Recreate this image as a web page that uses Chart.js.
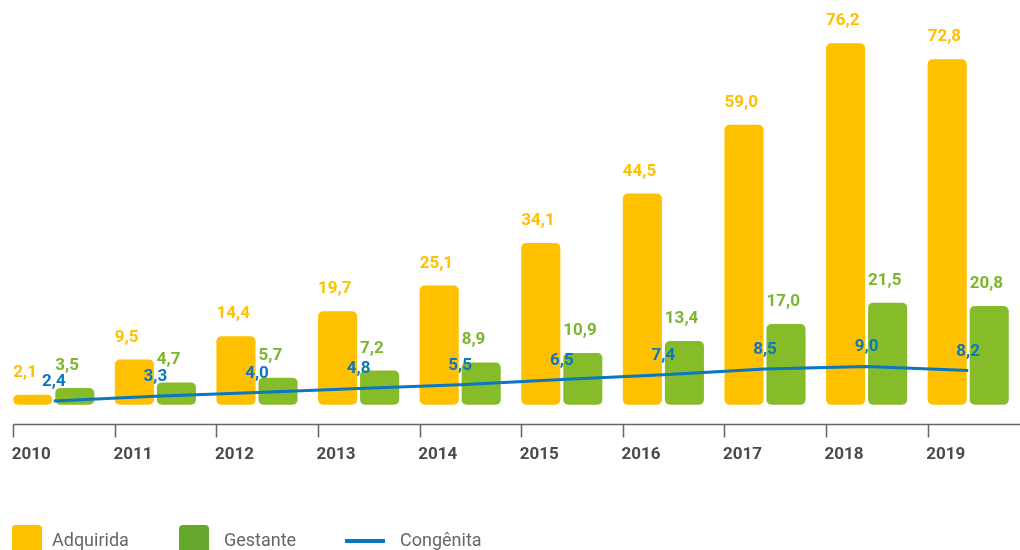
<!DOCTYPE html>
<html lang="pt-BR">
<head>
<meta charset="utf-8">
<title>Casos por ano</title>
<script src="https://cdn.jsdelivr.net/npm/chart.js@4.4.1/dist/chart.umd.min.js"></script>
<style>
  html, body { margin: 0; padding: 0; background: #fff; overflow: hidden; }
  #wrap { position: relative; width: 1020px; height: 550px; }
  #legend {
    position: absolute; left: 0; top: 525px; width: 1020px; height: 40px;
    font-family: Roboto, sans-serif; font-size: 18px; color: #666;
  }
  .item { position: absolute; top: 0; display: flex; align-items: flex-start; }
  .box { width: 30px; height: 30px; border-radius: 4px; }
  .line { width: 40px; height: 4px; margin-top: 14px; }
  .txt { position: absolute; top: 0; line-height: 30px; white-space: nowrap; }
</style>
</head>
<body>
<div id="wrap">
  <canvas id="chart" width="1020" height="550"></canvas>
  <div id="legend"></div>
</div>
<script>
  const years = ['2010', '2011', '2012', '2013', '2014', '2015', '2016', '2017', '2018', '2019'];
  const adquirida = [2.1, 9.5, 14.4, 19.7, 25.1, 34.1, 44.5, 59.0, 76.2, 72.8];
  const gestante = [3.5, 4.7, 5.7, 7.2, 8.9, 10.9, 13.4, 17.0, 21.5, 20.8];
  const congenita = [2.4, 3.3, 4.0, 4.8, 5.5, 6.5, 7.4, 8.5, 9.0, 8.2];

  const YELLOW = '#ffc000';
  const GREEN = '#86bc29';
  const GREEN_KEY = '#66a82e';
  const BLUE = '#0a77bf';

  function fmt(v) {
    return v.toFixed(1).replace('.', ',');
  }

  // numbers above every bar (left edge) and above each line point (centred)
  const valueLabels = {
    id: 'valueLabels',
    afterDatasetsDraw(chart) {
      const ctx = chart.ctx;
      ctx.save();
      ctx.font = 'bold 17px Roboto, sans-serif';
      ctx.textBaseline = 'alphabetic';
      chart.data.datasets.forEach((ds, di) => {
        const meta = chart.getDatasetMeta(di);
        meta.data.forEach((el, i) => {
          ctx.fillStyle = ds.labelColor;
          if (meta.type === 'bar') {
            ctx.textAlign = 'left';
            ctx.fillText(fmt(ds.data[i]), el.x - el.width / 2, el.y - 18);
          } else {
            ctx.textAlign = 'center';
            ctx.fillText(fmt(ds.data[i]), el.x, el.y - 15);
          }
        });
      });
      ctx.restore();
    }
  };

  // axis line plus tick marks at the left edge of each year's bar group
  const axisTicks = {
    id: 'axisTicks',
    afterDraw(chart) {
      const { ctx, chartArea } = chart;
      const bars = chart.getDatasetMeta(1).data;
      const y = chartArea.bottom;
      ctx.save();
      ctx.strokeStyle = '#666';
      ctx.lineWidth = 1.5;
      ctx.beginPath();
      ctx.moveTo(bars[0].x - bars[0].width / 2, y);
      ctx.lineTo(chart.width, y);
      bars.forEach(b => {
        const x = Math.round(b.x - b.width / 2) + 0.5;
        ctx.moveTo(x, y);
        ctx.lineTo(x, y + 13);
      });
      ctx.stroke();
      ctx.restore();
    }
  };

  const chart = new Chart(document.getElementById('chart'), {
    type: 'bar',
    data: {
      labels: years,
      datasets: [
        {
          type: 'line',
          label: 'Congênita',
          data: congenita,
          yAxisID: 'y1',
          borderColor: BLUE,
          borderWidth: 3,
          pointRadius: 0,
          tension: 0,
          order: 0,
          labelColor: BLUE
        },
        {
          label: 'Adquirida',
          data: adquirida,
          backgroundColor: YELLOW,
          borderRadius: 5,
          borderSkipped: false,
          categoryPercentage: 0.827,
          barPercentage: 0.93,
          order: 1,
          labelColor: YELLOW
        },
        {
          label: 'Gestante',
          data: gestante,
          backgroundColor: GREEN,
          borderRadius: 5,
          borderSkipped: false,
          categoryPercentage: 0.827,
          barPercentage: 0.93,
          order: 1,
          labelColor: '#7cb52e'
        }
      ]
    },
    options: {
      responsive: false,
      animation: false,
      devicePixelRatio: 1,
      layout: { padding: { left: 3, right: 1, top: 0, bottom: 65 } },
      plugins: {
        legend: { display: false },
        tooltip: { enabled: false }
      },
      scales: {
        x: {
          offset: true,
          grid: { display: false, drawTicks: false },
          border: { display: false },
          ticks: {
            // year labels start where each bar group starts
            labelOffset: -22.5,
            padding: 20,
            maxRotation: 0,
            autoSkip: false,
            color: '#4a4a4a',
            font: { family: 'Roboto', size: 17, weight: 'bold' }
          }
        },
        y: { display: false, min: -4.2, max: 85.3 },
        y1: { display: false, min: -2.1, max: 78.9 }
      }
    },
    plugins: [valueLabels, axisTicks]
  });

  // legend row under the axis
  const legendItems = [
    { text: 'Adquirida', kind: 'box', color: YELLOW, left: 12, textLeft: 40 },
    { text: 'Gestante', kind: 'box', color: GREEN_KEY, left: 179, textLeft: 45 },
    { text: 'Congênita', kind: 'line', color: BLUE, left: 345, textLeft: 55 }
  ];
  const legend = document.getElementById('legend');
  legendItems.forEach(it => {
    const item = document.createElement('div');
    item.className = 'item';
    item.style.left = it.left + 'px';
    const key = document.createElement('div');
    key.className = it.kind;
    key.style.background = it.color;
    const txt = document.createElement('span');
    txt.className = 'txt';
    txt.style.left = it.textLeft + 'px';
    txt.textContent = it.text;
    item.appendChild(key);
    item.appendChild(txt);
    legend.appendChild(item);
  });
</script>
</body>
</html>
